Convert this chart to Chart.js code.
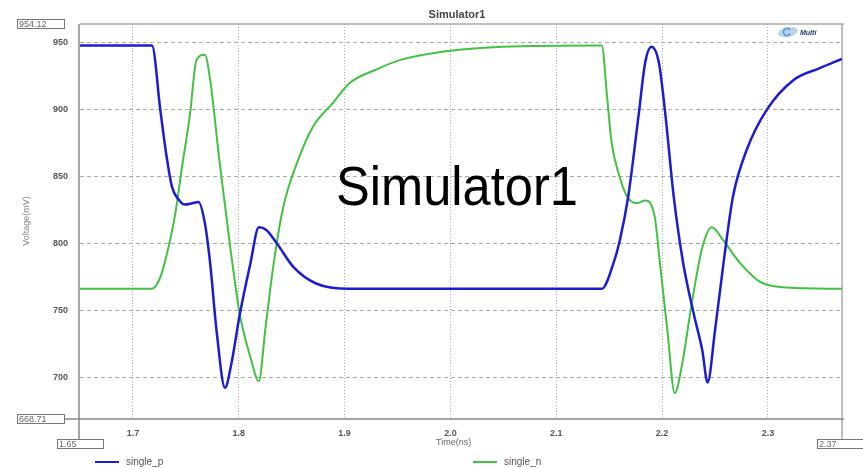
<!DOCTYPE html>
<html>
<head>
<meta charset="utf-8">
<script src="https://cdn.jsdelivr.net/npm/chart.js@4.4.1/dist/chart.umd.min.js"></script>
<style>
  body { margin: 0; background: #fff; }
  canvas { display: block; }
</style>
</head>
<body>
<canvas id="grafico" width="863" height="469"></canvas>
<script>
// dados
const tempoP = [1.65, 1.718, 1.726, 1.732, 1.737, 1.743, 1.749, 1.756, 1.762, 1.768, 1.773, 1.779, 1.787, 1.793, 1.801, 1.811, 1.819, 1.826, 1.836, 1.852, 1.873, 1.905, 2.143, 2.154, 2.160, 2.168, 2.178, 2.184, 2.190, 2.197, 2.203, 2.211, 2.220, 2.230, 2.238, 2.243, 2.250, 2.258, 2.267, 2.280, 2.299, 2.324, 2.349, 2.37];
const tensaoP = [948, 948, 899, 864, 842, 833, 829, 830, 831, 815, 785, 735, 692, 710, 747, 785, 812, 810, 800, 782, 770, 766, 766, 785, 802, 835, 897, 935, 947, 935, 897, 835, 785, 747, 720, 696, 735, 785, 835, 870, 900, 922, 931, 938];

const tempoN = [1.65, 1.718, 1.726, 1.733, 1.740, 1.746, 1.754, 1.760, 1.768, 1.773, 1.782, 1.792, 1.801, 1.811, 1.819, 1.825, 1.833, 1.842, 1.855, 1.870, 1.889, 1.905, 1.930, 1.952, 2.0, 2.05, 2.143, 2.148, 2.152, 2.159, 2.167, 2.176, 2.184, 2.193, 2.198, 2.205, 2.212, 2.219, 2.228, 2.238, 2.247, 2.258, 2.274, 2.293, 2.318, 2.37];
const tensaoN = [766, 766, 775, 795, 822, 855, 897, 937, 941, 922, 860, 797, 747, 715, 697, 735, 785, 827, 860, 887, 905, 920, 930, 937, 944, 947, 948, 910, 877, 852, 835, 830, 832, 820, 785, 735, 688, 710, 755, 797, 812, 802, 785, 771, 767, 766];

const ticksX = [1.7, 1.8, 1.9, 2.0, 2.1, 2.2, 2.3];
const ticksY = [700, 750, 800, 850, 900, 950];
const limitesX = [1.65, 2.37];
const limitesY = [668.71, 954.12];

const corAzul = '#1c1cd2';
const corVerde = '#42c242';

function caixa(ctx, texto, x, y, w, h) {
    ctx.fillStyle = '#fff';
    ctx.fillRect(x, y, w, h);
    ctx.strokeStyle = '#777';
    ctx.lineWidth = 1;
    ctx.strokeRect(x + 0.5, y + 0.5, w, h);
    ctx.fillStyle = '#666';
    ctx.font = '9px "Liberation Sans"';
    ctx.textAlign = 'left';
    ctx.textBaseline = 'middle';
    ctx.fillText(texto, x + 2, y + h / 2 + 1);
}

const moldura = {
    id: 'moldura',
    beforeDatasetsDraw(chart) {
        const ctx = chart.ctx;
        const a = chart.chartArea;
        ctx.save();
        ctx.strokeStyle = '#aaa';
        ctx.lineWidth = 1.5;
        ctx.beginPath();
        ctx.moveTo(a.left, a.top); ctx.lineTo(a.right + 2, a.top);
        ctx.moveTo(a.right, a.top); ctx.lineTo(a.right, 440);
        ctx.stroke();
        ctx.strokeStyle = '#888';
        ctx.beginPath();
        ctx.moveTo(a.left - 1, a.top); ctx.lineTo(a.left - 1, 447);
        ctx.moveTo(62, a.bottom); ctx.lineTo(a.right + 2, a.bottom);
        ctx.stroke();
        ctx.restore();
    },
    afterDraw(chart) {
        const ctx = chart.ctx;
        ctx.save();

        // titulo
        ctx.fillStyle = '#444';
        ctx.font = 'bold 11px "Liberation Sans"';
        ctx.textAlign = 'center';
        ctx.textBaseline = 'middle';
        ctx.fillText('Simulator1', 457, 15);

        // texto grande no meio
        ctx.save();
        ctx.translate(457, 205);
        ctx.scale(0.92, 1);
        ctx.fillStyle = '#000';
        ctx.font = '55px "Liberation Sans"';
        ctx.textAlign = 'center';
        ctx.textBaseline = 'alphabetic';
        ctx.fillText('Simulator1', 0, 0);
        ctx.restore();

        // titulos dos eixos
        ctx.fillStyle = '#888';
        ctx.font = '9px "Liberation Sans"';
        ctx.save();
        ctx.translate(27, 221);
        ctx.rotate(-Math.PI / 2);
        ctx.textAlign = 'center';
        ctx.fillText('Voltage(mV)', 0, 0);
        ctx.restore();
        ctx.fillStyle = '#666';
        ctx.textAlign = 'left';
        ctx.fillText('Time(ns)', 436, 443);

        // caixas dos limites
        caixa(ctx, limitesY[1].toFixed(2), 17, 19, 47, 9);
        caixa(ctx, limitesY[0].toFixed(2), 17, 414, 47, 9);
        caixa(ctx, limitesX[0].toFixed(2), 57, 439, 46, 9);
        caixa(ctx, limitesX[1].toFixed(2), 817, 439, 46, 9);

        // legenda
        const itens = [
            { nome: 'single_p', cor: corAzul, x: 95 },
            { nome: 'single_n', cor: corVerde, x: 473 }
        ];
        itens.forEach(it => {
            ctx.strokeStyle = it.cor;
            ctx.lineWidth = 2;
            ctx.beginPath();
            ctx.moveTo(it.x, 462);
            ctx.lineTo(it.x + 24, 462);
            ctx.stroke();
            ctx.fillStyle = '#555';
            ctx.font = '10px "Liberation Sans"';
            ctx.textAlign = 'left';
            ctx.textBaseline = 'middle';
            ctx.fillText(it.nome, it.x + 31, 462);
        });

        // logo
        ctx.fillStyle = '#b8d4ee';
        ctx.beginPath();
        ctx.ellipse(788, 32, 10, 5, -0.2, 0, Math.PI * 2);
        ctx.fill();
        ctx.strokeStyle = '#5a8fd0';
        ctx.lineWidth = 1.5;
        ctx.beginPath();
        ctx.arc(787, 32, 3.5, 0.5, Math.PI * 1.8);
        ctx.stroke();
        ctx.fillStyle = '#223366';
        ctx.font = 'italic bold 7px "Liberation Sans"';
        ctx.fillText('Multi', 800, 33);

        ctx.restore();
    }
};

const ctx = document.getElementById('grafico').getContext('2d');
new Chart(ctx, {
    type: 'line',
    data: {
        datasets: [
            {
                label: 'single_p',
                data: tempoP.map((t, i) => ({ x: t, y: tensaoP[i] })),
                borderColor: corAzul,
                borderWidth: 2.5,
                pointRadius: 0,
                cubicInterpolationMode: 'monotone'
            },
            {
                label: 'single_n',
                data: tempoN.map((t, i) => ({ x: t, y: tensaoN[i] })),
                borderColor: corVerde,
                borderWidth: 2,
                pointRadius: 0,
                cubicInterpolationMode: 'monotone'
            }
        ]
    },
    options: {
        responsive: false,
        animation: false,
        layout: { padding: { left: 0, top: 24, right: 21, bottom: 0 } },
        plugins: {
            legend: { display: false },
            title: { display: false },
            tooltip: { enabled: false }
        },
        scales: {
            x: {
                type: 'linear',
                min: limitesX[0],
                max: limitesX[1],
                afterBuildTicks: s => { s.ticks = ticksX.map(v => ({ value: v })); },
                afterFit: s => { s.height = 50; },
                grid: { color: '#aaa', lineWidth: 1, drawTicks: false },
                border: { display: false, dash: [1, 2] },
                ticks: {
                    padding: 9,
                    color: '#555',
                    font: { family: 'Liberation Sans', size: 9, weight: 'bold' },
                    callback: v => v.toFixed(1)
                }
            },
            y: {
                min: limitesY[0],
                max: 964,
                afterBuildTicks: s => { s.ticks = ticksY.map(v => ({ value: v })); },
                afterFit: s => { s.width = 80; },
                grid: { color: '#aaa', lineWidth: 1, drawTicks: false },
                border: { display: false, dash: [4, 3] },
                ticks: {
                    padding: 12,
                    color: '#555',
                    font: { family: 'Liberation Sans', size: 9, weight: 'bold' }
                }
            }
        }
    },
    plugins: [moldura]
});
</script>
</body>
</html>
